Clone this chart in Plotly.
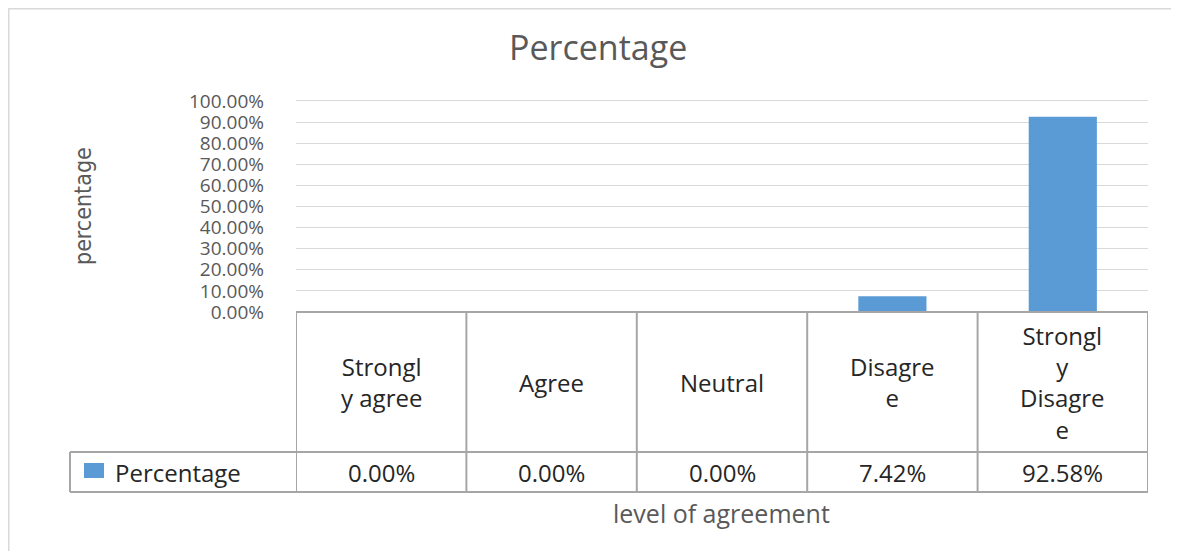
import plotly.graph_objects as go

# ---- data ----
categories = ["Strongly agree", "Agree", "Neutral", "Disagree", "Strongly Disagree"]
header_labels = ["Strongl\ny agree", "Agree", "Neutral", "Disagre\ne", "Strongl\ny\nDisagre\ne"]
percentages = [0.00, 0.00, 0.00, 7.42, 92.58]
series_name = "Percentage"
y_ticks = [0, 10, 20, 30, 40, 50, 60, 70, 80, 90, 100]

W, H = 1179, 559          # window size
OFF = 8                   # page body margin
FW, FH = W - 2 * OFF, H - 2 * OFF  # figure size that fits the window
BAR = "#5b9bd5"
GRID = "#d9d9d9"
TBL = "#a6a6a6"
TXT = "#595959"
DARK = "#262626"
FONT = "Open Sans, Lato, DejaVu Sans, sans-serif"


def px(x):
    return (x - OFF) / FW


def py(y):
    return 1 - (y - OFF) / FH


plot_left, plot_right, plot_bottom = 296, 1148, 312
unit = (312 - 101) / 100.0   # pixels per percent
y_max = 100.5
plot_top = plot_bottom - y_max * unit
hdr_bottom, row_bottom = 452, 492

fig = go.Figure()
fig.add_trace(go.Bar(x=list(range(len(categories))), y=percentages, name=series_name,
                     marker=dict(color=BAR, line=dict(width=0)),
                     hoverinfo="skip", showlegend=False))

fig.update_layout(
    width=FW, height=FH,
    margin=dict(l=0, r=0, t=0, b=0, pad=0, autoexpand=False),
    paper_bgcolor="white", plot_bgcolor="white",
    bargap=0.6,
    font=dict(family=FONT, color=TXT),
    xaxis=dict(domain=[px(plot_left), px(plot_right)], range=[-0.5, len(categories) - 0.5],
               showticklabels=False, showgrid=False, zeroline=False, showline=False,
               automargin=False, fixedrange=True),
    yaxis=dict(domain=[py(plot_bottom), py(plot_top)], range=[0, y_max],
               tickmode="array", tickvals=y_ticks,
               ticktext=[f"{v:.2f}%" for v in y_ticks],
               tickfont=dict(size=19, color=TXT, family=FONT),
               showgrid=True, gridcolor=GRID, gridwidth=1.3,
               zeroline=False, showline=False, ticks="", ticklabelstandoff=31,
               automargin=False, fixedrange=True),
)

shapes = []
# chart frame (extends beyond the visible area on right and bottom)
shapes.append(dict(type="rect", xref="paper", yref="paper",
                   x0=px(OFF), x1=px(W + 40), y0=py(H + 40), y1=py(OFF),
                   line=dict(color=GRID, width=3), fillcolor="rgba(0,0,0,0)", layer="below"))

n = len(categories)
# table horizontal lines
shapes.append(dict(type="line", xref="x", yref="paper", x0=-0.5, x1=n - 0.5,
                   y0=py(plot_bottom), y1=py(plot_bottom), line=dict(color=TBL, width=2)))
shapes.append(dict(type="line", xref="paper", yref="paper", x0=px(70), x1=px(plot_right),
                   y0=py(hdr_bottom), y1=py(hdr_bottom), line=dict(color=TBL, width=2)))
shapes.append(dict(type="line", xref="paper", yref="paper", x0=px(70), x1=px(plot_right),
                   y0=py(row_bottom), y1=py(row_bottom), line=dict(color=TBL, width=2)))
# table vertical lines
for i in range(n + 1):
    shapes.append(dict(type="line", xref="x", yref="paper", x0=i - 0.5, x1=i - 0.5,
                       y0=py(plot_bottom), y1=py(row_bottom), line=dict(color=TBL, width=2)))
# legend cell left border
shapes.append(dict(type="line", xref="paper", yref="paper", x0=px(70), x1=px(70),
                   y0=py(hdr_bottom), y1=py(row_bottom), line=dict(color=TBL, width=2)))
# legend key
shapes.append(dict(type="rect", xref="paper", yref="paper", x0=px(84), x1=px(104),
                   y0=py(478), y1=py(463), line=dict(width=0), fillcolor=BAR))

annotations = []
# title
annotations.append(dict(text="Percentage", xref="paper", yref="paper", x=px(598), y=py(47),
                        showarrow=False, font=dict(size=34, color=TXT, family=FONT),
                        xanchor="center", yanchor="middle"))
# y axis title
annotations.append(dict(text="percentage", xref="paper", yref="paper", x=px(83), y=py(206),
                        showarrow=False, textangle=-90,
                        font=dict(size=23, color=TXT,
                                  family="Liberation Sans Narrow, Arial Narrow, DejaVu Sans Condensed, Open Sans, sans-serif"),
                        xanchor="center", yanchor="middle"))
# x axis title
annotations.append(dict(text="level of agreement", xref="paper", yref="paper", x=px(721), y=py(513),
                        showarrow=False, font=dict(size=25, color=TXT, family=FONT),
                        xanchor="center", yanchor="middle"))
# table header labels and values
for i, (lab, v) in enumerate(zip(header_labels, percentages)):
    annotations.append(dict(text=lab.replace("\n", "<br>"), xref="x", yref="paper",
                            x=i, y=py((plot_bottom + hdr_bottom) / 2), showarrow=False,
                            font=dict(size=24, color=DARK, family=FONT),
                            xanchor="center", yanchor="middle", align="center"))
    annotations.append(dict(text=f"{v:.2f}%", xref="x", yref="paper",
                            x=i, y=py((hdr_bottom + row_bottom) / 2), showarrow=False,
                            font=dict(size=24, color=DARK, family=FONT),
                            xanchor="center", yanchor="middle"))
# legend text
annotations.append(dict(text=series_name, xref="paper", yref="paper", x=px(113),
                        y=py((hdr_bottom + row_bottom) / 2), showarrow=False,
                        font=dict(size=24, color=DARK, family=FONT),
                        xanchor="left", yanchor="middle"))

fig.update_layout(shapes=shapes, annotations=annotations)
fig.write_html("out.html")
